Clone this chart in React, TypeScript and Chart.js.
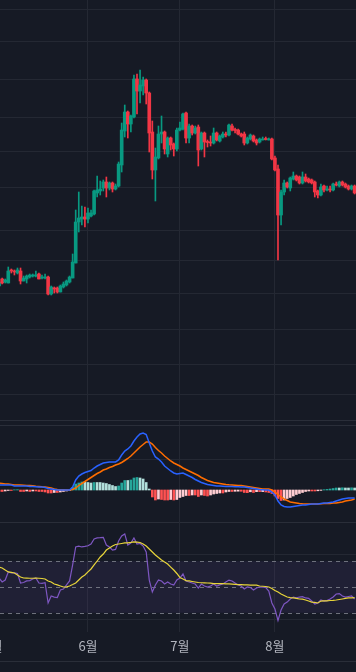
import React, { useEffect, useRef } from 'react';
import { Chart, registerables } from 'chart.js';

Chart.register(...registerables);

// ---------- DATA ----------
// day index 0 = May 3, one candle per day
const monthStarts = [-2, 29, 59, 90];
const monthLabels = ['5월', '6월', '7월', '8월'];

const opens = [
  214, 221, 218, 217, 230, 229, 227, 229, 219, 221,
  223, 224, 224, 226, 222, 222, 223, 206, 212, 212,
  208, 213, 215, 218, 222, 237, 278, 281, 283, 281,
  284, 286, 307, 309, 312, 318, 312, 317, 311, 314,
  335, 369, 388, 376, 383, 421, 409, 414, 420, 407,
  368, 330, 342, 366, 368, 346, 362, 356, 351, 370,
  371, 387, 362, 374, 367, 373, 351, 367, 358, 358,
  357, 367, 359, 363, 366, 365, 374, 370, 370, 366,
  366, 357, 361, 364, 360, 358, 360, 361, 360, 361,
  342, 331, 285, 308, 317, 312, 321, 324, 323, 317,
  323, 321, 320, 318, 309, 305, 314, 310, 311, 310,
  316, 314, 318, 316, 314, 311, 314,
];
const highs = [
  220, 222, 221, 233, 231, 230, 232, 232, 224, 225,
  226, 226, 229, 227, 225, 226, 224, 214, 213, 213,
  215, 218, 220, 224, 246, 290, 308, 294, 293, 292,
  290, 310, 324, 319, 320, 323, 318, 318, 316, 338,
  377, 395, 389, 385, 425, 426, 430, 423, 421, 408,
  379, 352, 374, 384, 369, 363, 363, 357, 372, 378,
  387, 388, 376, 375, 374, 375, 368, 368, 360, 364,
  372, 368, 365, 368, 368, 376, 376, 372, 371, 367,
  368, 363, 366, 365, 361, 362, 363, 363, 362, 362,
  344, 335, 310, 320, 318, 323, 328, 325, 324, 328,
  326, 322, 321, 319, 310, 316, 315, 314, 314, 317,
  318, 319, 319, 317, 315, 315, 315,
];
const lows = [
  213, 216, 217, 217, 227, 225, 226, 216, 219, 217,
  222, 223, 223, 221, 221, 221, 205, 205, 207, 207,
  208, 212, 214, 217, 222, 237, 268, 275, 273, 277,
  283, 285, 303, 305, 309, 303, 310, 308, 310, 313,
  328, 363, 362, 368, 382, 386, 397, 405, 396, 348,
  321, 299, 341, 357, 346, 343, 350, 344, 349, 369,
  370, 357, 357, 365, 366, 334, 350, 343, 353, 354,
  356, 359, 358, 362, 363, 364, 369, 367, 365, 363,
  355, 356, 360, 358, 355, 357, 360, 360, 360, 340,
  329, 240, 275, 305, 312, 309, 320, 319, 316, 316,
  318, 317, 316, 303, 302, 304, 308, 309, 308, 309,
  314, 313, 314, 312, 310, 310, 306,
];
const closes = [
  218, 217, 220, 229, 229, 228, 230, 219, 222, 224,
  225, 225, 225, 221, 223, 223, 206, 213, 211, 208,
  214, 216, 219, 223, 238, 278, 282, 283, 281, 287,
  287, 309, 310, 311, 318, 312, 317, 311, 314, 336,
  370, 388, 376, 384, 421, 409, 415, 420, 407, 367,
  330, 343, 366, 368, 351, 362, 355, 351, 370, 372,
  386, 362, 374, 367, 372, 350, 367, 358, 357.5, 357,
  367, 360, 364, 366, 365, 375, 370, 369.5, 366, 364,
  357, 362, 365, 359, 357, 361, 361, 360.5, 361, 341,
  330, 285, 308, 317, 313, 322, 324, 320, 317, 323,
  319, 318, 317, 308, 305, 313, 310, 311, 310, 316,
  315, 318, 315, 313, 311, 314, 307,
];
const priceGridTicks = [106, 136, 171, 207, 240, 270, 312, 349, 383, 421, 458, 491];

const macdLine = [
  5, 5, 5, 5, 5, 4, 4, 4, 4, 4,
  3.5, 3.5, 3.3, 3, 3, 2.5, 1.5, 1, 0.5, 0,
  0, 0, 0, 0, 3, 10, 14, 16, 17.5, 18.5,
  19.5, 22, 24, 25.5, 27, 27.5, 28, 28, 28, 30,
  35, 39, 41, 44, 49, 53, 56, 57, 55.5, 47,
  39, 33, 31, 28, 24, 21.5, 19, 17, 16, 16.5,
  17, 15.5, 14, 12.5, 10.5, 9, 7.5, 6.5, 5.5, 5,
  4.5, 4, 4, 3.8, 3.6, 3.5, 3.4, 3.3, 3.2, 3.1,
  3, 2.5, 2, 1.5, 1, 0.5, 0.3, 0, 0, -2,
  -5, -11, -15, -16.5, -17, -17, -16.5, -16, -15.5, -15,
  -15, -14.5, -14, -14, -14, -13.5, -13, -13, -12.5, -12,
  -11, -10, -9, -8.5, -8, -8, -8,
];
const signalLine = [
  7, 6.5, 6, 6, 5.5, 5, 5, 5, 4.8, 4.6,
  4.4, 4.2, 3.8, 3.5, 3.2, 3, 2.5, 2, 1, 0.5,
  0.3, 0.2, 0.1, 0, 0.5, 2, 4.5, 6.5, 8.5, 10.5,
  12.5, 14.5, 16.5, 18, 20, 21, 22.5, 23.5, 25, 26,
  27.5, 29.5, 31.5, 34, 37, 40, 43, 45.5, 48, 48,
  46, 42.5, 39.5, 37, 34, 31.5, 29, 27, 25.5, 24,
  22, 20.5, 19, 17.5, 16, 14.5, 12.5, 11, 9.5, 8.5,
  7.5, 7, 6.5, 6, 5.5, 5.2, 5, 4.8, 4.6, 4.5,
  4, 3.5, 3, 2.5, 2, 1.5, 1, 1, 1, 0,
  -2, -4.5, -7, -9, -10.5, -12, -12.5, -13, -13.5, -13.8,
  -14, -14, -14, -14, -14, -13.8, -13.5, -13.5, -13.5, -13,
  -13, -12.5, -12, -11, -10.5, -10, -9,
];
const histogram = [
  -1.5, -1.5, -1, -0.5, -0.5, 0.2, 0.3, -1.5, -1.5, -1,
  -1.5, -1, -1, -1.5, -1.5, -2, -3, -3, -2.5, -2.5,
  -2, -1.5, -1, -0.5, 2.5, 6, 7, 8, 8, 7.5,
  7, 7.5, 7.5, 7.5, 7, 6.5, 5.5, 4.5, 3.5, 4,
  7, 9.5, 9.5, 10, 12, 12.5, 12, 11, 7.5, 1,
  -7, -10, -9, -9.5, -10, -10, -9.5, -10, -9.5, -7.5,
  -6.5, -5.5, -5.5, -5, -5, -6.5, -5, -5.5, -6, -5,
  -4, -3.5, -3, -3, -2, -1.5, -1.5, -1.3, -1.2, -1.3,
  -2.5, -2.7, -1.8, -2.5, -1.7, -1.7, -1.6, -2, -2.5, -3.5,
  -6, -8.5, -10.5, -10, -8.5, -7.5, -6, -4.5, -3.5, -2.5,
  -1.5, -1, -1, -1, -0.8, -0.4, 0.3, 0.6, 1, 1.5,
  2, 2, 2.2, 2, 2, 2.2, 2,
];
const macdGridTicks = [31];

const rsiValues = [
  57.0, 53.9, 55.4, 61.7, 60.9, 60.9, 60.5, 53.1, 53.5, 54.7,
  55.0, 56.2, 57.0, 53.1, 52.8, 53.4, 37.6, 43.0, 42.2, 41.8,
  47.7, 48.4, 51.6, 54.7, 67.1, 81.1, 81.8, 81.1, 81.5, 82.0,
  83.4, 87.3, 88.1, 88.3, 88.6, 82.6, 81.1, 78.7, 79.2, 85.7,
  89.6, 91.2, 82.6, 84.2, 88.1, 83.4, 83.8, 81.8, 77.2, 55.4,
  46.1, 51.6, 55.4, 54.7, 52.3, 53.9, 52.3, 51.6, 55.4, 57.0,
  60.1, 54.7, 53.9, 53.1, 52.3, 49.2, 52.3, 50.8, 50.0, 50.8,
  52.3, 50.8, 51.6, 52.3, 53.9, 55.4, 54.7, 53.1, 51.6, 50.8,
  48.4, 50.0, 49.6, 47.7, 49.2, 50.0, 49.8, 49.6, 46.9, 37.6,
  32.9, 24.0, 32.1, 36.8, 38.3, 40.7, 42.2, 41.5, 42.2, 42.5,
  41.5, 41.2, 39.1, 36.8, 37.6, 39.9, 39.1, 39.4, 40.7, 42.2,
  44.6, 44.9, 43.0, 42.2, 42.6, 43.0, 40.7,
];
const rsiMA = [
  65.5, 64.8, 63.2, 61.7, 61.3, 60.9, 59.3, 57.8, 57.0, 56.9,
  56.8, 56.8, 56.9, 56.8, 56.6, 56.2, 54.7, 53.9, 52.3, 51.6,
  50.8, 50.0, 50.1, 50.8, 51.9, 53.1, 55.4, 57.8, 59.3, 61.7,
  64.0, 67.1, 70.2, 73.3, 75.6, 78.7, 80.3, 81.8, 83.0, 83.4,
  83.8, 84.2, 84.3, 84.6, 85.0, 84.9, 84.6, 83.4, 81.8, 79.5,
  77.2, 74.9, 72.9, 71.0, 69.4, 67.9, 65.5, 63.2, 60.5, 57.4,
  56.2, 55.0, 54.7, 54.3, 53.9, 53.5, 53.3, 53.2, 53.1, 53.0,
  52.7, 52.7, 52.6, 52.6, 52.5, 52.5, 52.3, 52.1, 51.9, 51.8,
  51.6, 51.6, 51.5, 51.5, 51.4, 50.8, 50.6, 50.4, 50.0, 48.8,
  47.3, 46.1, 44.6, 43.4, 42.2, 41.8, 41.5, 41.1, 40.7, 40.6,
  39.9, 39.1, 38.3, 38.0, 37.6, 39.1, 39.2, 39.3, 39.5, 39.6,
  39.9, 40.3, 40.7, 41.1, 41.5, 41.6, 41.7,
];
const rsiGridTicks = [24.4, 75.6];
const rsiUpper = 70;
const rsiMid = 50;
const rsiLower = 30;

// ---------- VIEW CONFIG ----------
const X_MIN = 0.3;
const X_MAX = 116.45;
const PRICE_MIN = 80;
const PRICE_MAX = 500;
const MACD_MIN = -32;
const MACD_MAX = 69;
const RSI_MIN = 15.05;
const RSI_MAX = 100.49;

const BG = '#161a25';
const GRID = '#242833';
const SEP = '#2a2e39';
const UP = '#089981';
const DOWN = '#f23645';
const LABEL = '#b2b5be';

function monthAxis(): any {
  return {
    type: 'linear',
    min: X_MIN,
    max: X_MAX,
    offset: false,
    afterBuildTicks: (scale: any) => {
      scale.ticks = monthStarts.map((v) => ({ value: v }));
    },
    ticks: { display: false },
    grid: { color: GRID, lineWidth: 1, drawTicks: false, offset: false },
    border: { display: false },
  };
}

function valueAxis(min: number, max: number, gridTicks: number[]): any {
  return {
    type: 'linear',
    position: 'right',
    min,
    max,
    afterBuildTicks: (scale: any) => {
      scale.ticks = gridTicks.map((v) => ({ value: v }));
    },
    ticks: { display: false },
    grid: { color: GRID, lineWidth: 1, drawTicks: false },
    border: { display: false },
  };
}

function baseOptions(scales: any, padding: any): any {
  return {
    responsive: false,
    maintainAspectRatio: false,
    animation: false,
    events: [],
    layout: { padding },
    plugins: { legend: { display: false }, tooltip: { enabled: false } },
    scales,
  };
}

const candleColors = closes.map((c, i) => (c >= opens[i] ? UP : DOWN));

const histColors = histogram.map((h, i) => {
  const prev = i > 0 ? histogram[i - 1] : h;
  if (h >= 0) return prev < h ? '#26a69a' : '#b2dfdb';
  return prev < h ? '#ffcdd2' : '#ff5252';
});

const monthLabelPlugin = {
  id: 'monthLabels',
  afterDraw(chart: any) {
    const { ctx, chartArea, scales } = chart;
    ctx.save();
    ctx.fillStyle = LABEL;
    ctx.font = '13px "Noto Sans CJK KR", "Noto Sans", sans-serif';
    ctx.textAlign = 'center';
    ctx.textBaseline = 'middle';
    monthStarts.forEach((v, i) => {
      ctx.fillText(monthLabels[i], scales.x.getPixelForValue(v), chartArea.bottom + 14.5);
    });
    ctx.restore();
  },
};

const rsiBandPlugin = {
  id: 'rsiBand',
  beforeDatasetsDraw(chart: any) {
    const { ctx, chartArea: a, scales } = chart;
    const y = scales.y;
    const top = y.getPixelForValue(rsiUpper);
    const bottom = y.getPixelForValue(rsiLower);
    ctx.save();
    ctx.fillStyle = 'rgba(126,87,194,0.1)';
    ctx.fillRect(a.left, top, a.right - a.left, bottom - top);
    ctx.strokeStyle = 'rgba(120,123,134,0.9)';
    ctx.lineWidth = 1;
    ctx.setLineDash([4, 4]);
    [rsiUpper, rsiMid, rsiLower].forEach((v) => {
      const py = Math.round(y.getPixelForValue(v)) + 0.5;
      ctx.beginPath();
      ctx.moveTo(a.left, py);
      ctx.lineTo(a.right, py);
      ctx.stroke();
    });
    ctx.restore();
  },
};

function priceConfig(): any {
  return {
    type: 'bar',
    data: {
      datasets: [
        {
          data: lows.map((l, i) => ({ x: i, y: [l, highs[i]] })),
          backgroundColor: candleColors,
          barThickness: 1,
          grouped: false,
          order: 2,
        },
        {
          data: opens.map((o, i) => ({ x: i, y: [o, closes[i]] })),
          backgroundColor: candleColors,
          barThickness: 3,
          minBarLength: 1,
          grouped: false,
          order: 1,
        },
      ],
    },
    options: baseOptions({ x: monthAxis(), y: valueAxis(PRICE_MIN, PRICE_MAX, priceGridTicks) }, 0),
  };
}

function macdConfig(): any {
  return {
    type: 'bar',
    data: {
      datasets: [
        {
          type: 'line',
          data: macdLine.map((v, i) => ({ x: i, y: v })),
          borderColor: '#2962ff',
          borderWidth: 1.5,
          pointRadius: 0,
          tension: 0,
          order: 0,
        },
        {
          type: 'line',
          data: signalLine.map((v, i) => ({ x: i, y: v })),
          borderColor: '#ff6d00',
          borderWidth: 1.5,
          pointRadius: 0,
          tension: 0,
          order: 1,
        },
        {
          type: 'bar',
          data: histogram.map((v, i) => ({ x: i, y: v })),
          backgroundColor: histColors,
          barThickness: 2,
          grouped: false,
          order: 2,
        },
      ],
    },
    options: baseOptions({ x: monthAxis(), y: valueAxis(MACD_MIN, MACD_MAX, macdGridTicks) }, 0),
  };
}

function rsiConfig(): any {
  return {
    type: 'line',
    data: {
      datasets: [
        {
          data: rsiMA.map((v, i) => ({ x: i, y: v })),
          borderColor: '#e8d53a',
          borderWidth: 1.2,
          pointRadius: 0,
          tension: 0,
          order: 0,
        },
        {
          data: rsiValues.map((v, i) => ({ x: i, y: v })),
          borderColor: '#7e57c2',
          borderWidth: 1.2,
          pointRadius: 0,
          tension: 0,
          order: 1,
        },
      ],
    },
    options: baseOptions(
      { x: monthAxis(), y: valueAxis(RSI_MIN, RSI_MAX, rsiGridTicks) },
      { top: 0, left: 0, right: 0, bottom: 30 }
    ),
    plugins: [rsiBandPlugin, monthLabelPlugin],
  };
}

function Panel({ top, height, make }: { top: number; height: number; make: () => any }) {
  const ref = useRef<HTMLCanvasElement | null>(null);
  useEffect(() => {
    if (!ref.current) return;
    const chart = new Chart(ref.current, make());
    return () => chart.destroy();
  }, []);
  return (
    <canvas
      ref={ref}
      width={356}
      height={height}
      style={{ position: 'absolute', left: 0, top, width: 356, height }}
    />
  );
}

function Line({ top }: { top: number }) {
  return (
    <div style={{ position: 'absolute', left: 0, top, width: 356, height: 1, background: SEP }} />
  );
}

export default function App() {
  return (
    <div
      style={{
        position: 'fixed',
        left: 0,
        top: 0,
        width: 356,
        height: 672,
        background: BG,
        overflow: 'hidden',
      }}
    >
      <Panel top={0} height={420} make={priceConfig} />
      <Line top={420} />
      <Panel top={421} height={101} make={macdConfig} />
      <Line top={425} />
      <Line top={522} />
      <Panel top={522} height={140} make={rsiConfig} />
      <Line top={661} />
    </div>
  );
}
